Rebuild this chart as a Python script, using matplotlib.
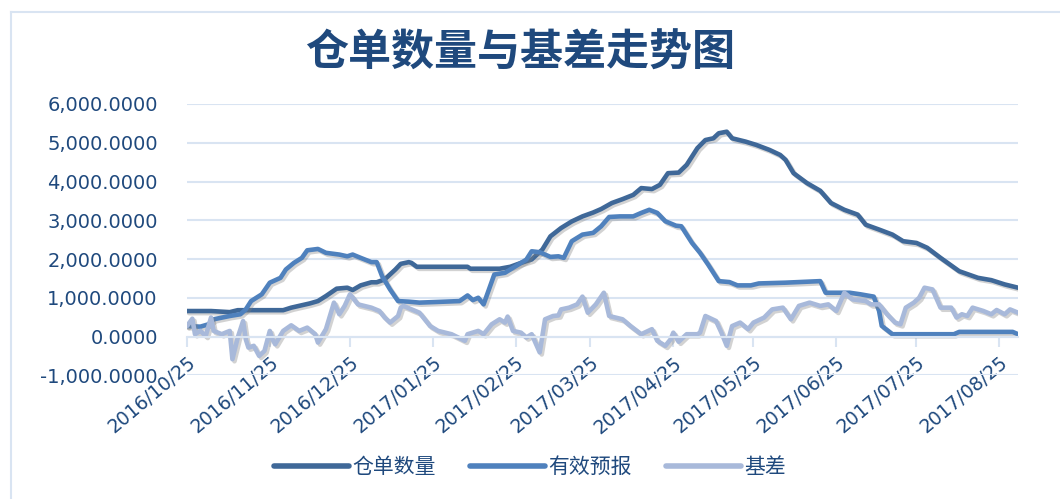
import numpy as np
import pandas as pd
import matplotlib
matplotlib.use("Agg")
import matplotlib.pyplot as plt
import matplotlib.dates as mdates
import matplotlib.patheffects as pe
from matplotlib.lines import Line2D
from matplotlib.ticker import FuncFormatter

plt.rcParams['font.family'] = ['Noto Sans CJK SC', 'DejaVu Sans']

# 仓单数量
cd_dates = ["2016-10-25", "2016-11-03", "2016-11-10", "2016-11-13", "2016-11-30", "2016-12-03",
            "2016-12-10", "2016-12-13", "2016-12-16", "2016-12-20", "2016-12-24", "2016-12-26",
            "2016-12-29", "2017-01-02", "2017-01-04", "2017-01-07", "2017-01-11", "2017-01-13",
            "2017-01-16", "2017-01-17", "2017-01-19", "2017-02-07", "2017-02-08", "2017-02-19",
            "2017-02-23", "2017-02-27", "2017-03-03", "2017-03-07", "2017-03-10", "2017-03-14",
            "2017-03-18", "2017-03-22", "2017-03-26", "2017-03-29", "2017-04-02", "2017-04-06",
            "2017-04-10", "2017-04-13", "2017-04-17", "2017-04-20", "2017-04-23", "2017-04-27",
            "2017-04-30", "2017-05-04", "2017-05-07", "2017-05-10", "2017-05-12", "2017-05-15",
            "2017-05-17", "2017-05-22", "2017-05-26", "2017-05-31", "2017-06-04", "2017-06-06",
            "2017-06-09", "2017-06-14", "2017-06-19", "2017-06-23", "2017-06-28", "2017-07-03",
            "2017-07-06", "2017-07-11", "2017-07-16", "2017-07-20", "2017-07-25", "2017-07-29",
            "2017-08-03", "2017-08-10", "2017-08-17", "2017-08-22", "2017-08-27", "2017-09-01"]
cd_vals = [658, 658, 630, 680, 680, 745,
           855, 915, 1045, 1235, 1260, 1200,
           1320, 1400, 1400, 1475, 1730, 1875,
           1920, 1900, 1800, 1800, 1750, 1750,
           1800, 1900, 1990, 2245, 2585, 2800,
           2970, 3100, 3200, 3290, 3445, 3545,
           3655, 3830, 3805, 3915, 4215, 4230,
           4430, 4860, 5070, 5115, 5245, 5285,
           5115, 5030, 4945, 4815, 4685, 4560,
           4215, 3960, 3760, 3445, 3270, 3145,
           2885, 2760, 2630, 2460, 2415, 2290,
           2030, 1685, 1515, 1455, 1345, 1260]

# 有效预报
yx_dates = ["2016-10-25", "2016-10-30", "2016-11-02", "2016-11-04", "2016-11-10", "2016-11-14",
            "2016-11-16", "2016-11-18", "2016-11-22", "2016-11-25", "2016-11-29", "2016-12-01",
            "2016-12-04", "2016-12-07", "2016-12-09", "2016-12-13", "2016-12-16", "2016-12-21",
            "2016-12-24", "2016-12-26", "2016-12-29", "2017-01-02", "2017-01-04", "2017-01-06",
            "2017-01-09", "2017-01-12", "2017-01-16", "2017-01-20", "2017-02-04", "2017-02-07",
            "2017-02-09", "2017-02-11", "2017-02-13", "2017-02-17", "2017-02-21", "2017-02-25",
            "2017-03-01", "2017-03-03", "2017-03-06", "2017-03-10", "2017-03-13", "2017-03-15",
            "2017-03-18", "2017-03-22", "2017-03-26", "2017-03-29", "2017-04-01", "2017-04-05",
            "2017-04-10", "2017-04-13", "2017-04-16", "2017-04-19", "2017-04-22", "2017-04-26",
            "2017-04-28", "2017-05-02", "2017-05-05", "2017-05-08", "2017-05-12", "2017-05-16",
            "2017-05-19", "2017-05-24", "2017-05-27", "2017-06-06", "2017-06-19", "2017-06-21",
            "2017-06-30", "2017-07-04", "2017-07-09", "2017-07-11", "2017-07-12", "2017-07-16",
            "2017-08-08", "2017-08-10", "2017-08-30", "2017-09-01"]
yx_vals = [270, 255, 315, 445, 530, 575,
           700, 915, 1090, 1390, 1515, 1730,
           1900, 2030, 2225, 2260, 2160, 2115,
           2070, 2115, 2030, 1920, 1920, 1560,
           1215, 915, 900, 875, 915, 1060,
           940, 1000, 830, 1600, 1645, 1815,
           1985, 2200, 2175, 2055, 2070, 2030,
           2460, 2630, 2675, 2845, 3085, 3100,
           3100, 3190, 3270, 3190, 2975, 2860,
           2845, 2415, 2160, 1860, 1430, 1405,
           1320, 1320, 1370, 1390, 1430, 1130,
           1130, 1090, 1030, 660, 275, 60,
           60, 120, 120, 60]

# 基差
jc_dates = ["2016-10-25", "2016-10-27", "2016-10-28", "2016-10-30", "2016-11-01", "2016-11-03",
            "2016-11-04", "2016-11-07", "2016-11-10", "2016-11-11", "2016-11-13", "2016-11-15",
            "2016-11-16", "2016-11-17", "2016-11-19", "2016-11-21", "2016-11-23", "2016-11-25",
            "2016-11-26", "2016-11-27", "2016-11-30", "2016-12-03", "2016-12-06", "2016-12-09",
            "2016-12-12", "2016-12-13", "2016-12-16", "2016-12-19", "2016-12-21", "2016-12-23",
            "2016-12-25", "2016-12-28", "2017-01-02", "2017-01-05", "2017-01-07", "2017-01-09",
            "2017-01-12", "2017-01-13", "2017-01-14", "2017-01-20", "2017-01-24", "2017-01-27",
            "2017-02-01", "2017-02-06", "2017-02-07", "2017-02-11", "2017-02-13", "2017-02-16",
            "2017-02-19", "2017-02-21", "2017-02-22", "2017-02-24", "2017-02-27", "2017-03-01",
            "2017-03-03", "2017-03-06", "2017-03-08", "2017-03-11", "2017-03-13", "2017-03-14",
            "2017-03-17", "2017-03-20", "2017-03-22", "2017-03-24", "2017-03-27", "2017-03-30",
            "2017-04-01", "2017-04-06", "2017-04-09", "2017-04-13", "2017-04-17", "2017-04-19",
            "2017-04-22", "2017-04-24", "2017-04-25", "2017-04-27", "2017-04-30", "2017-05-04",
            "2017-05-05", "2017-05-07", "2017-05-11", "2017-05-13", "2017-05-15", "2017-05-17",
            "2017-05-20", "2017-05-23", "2017-05-25", "2017-05-29", "2017-06-01", "2017-06-05",
            "2017-06-08", "2017-06-11", "2017-06-15", "2017-06-19", "2017-06-22", "2017-06-25",
            "2017-06-28", "2017-07-01", "2017-07-06", "2017-07-08", "2017-07-11", "2017-07-14",
            "2017-07-17", "2017-07-19", "2017-07-21", "2017-07-24", "2017-07-26", "2017-07-28",
            "2017-07-31", "2017-08-03", "2017-08-07", "2017-08-09", "2017-08-11", "2017-08-13",
            "2017-08-15", "2017-08-19", "2017-08-22", "2017-08-24", "2017-08-27", "2017-08-29",
            "2017-09-01"]
jc_vals = [270, 460, 60, 145, 15, 490,
           145, 60, 145, -585, -25, 400,
           -70, -285, -240, -500, -370, 145,
           -70, -200, 145, 290, 145, 230,
           60, -155, 190, 875, 575, 790,
           1090, 830, 745, 660, 490, 360,
           530, 745, 790, 615, 270, 145,
           60, -110, 60, 145, 60, 315,
           445, 360, 515, 145, 100, -25,
           60, -410, 445, 530, 545, 700,
           745, 830, 1030, 615, 830, 1130,
           530, 445, 270, 60, 190, -110,
           -240, -70, 100, -135, 60, 60,
           100, 530, 400, 100, -240, 270,
           360, 190, 360, 490, 700, 745,
           445, 790, 875, 790, 830, 660,
           1130, 960, 915, 830, 830, 575,
           360, 315, 745, 875, 1000, 1260,
           1215, 745, 745, 490, 575, 530,
           745, 660, 575, 685, 575, 700,
           615]

tick_dates = pd.date_range("2016-10-25", "2017-08-25", freq=pd.DateOffset(months=1))

c_dark = "#3F6898"
c_mid = "#4F81BD"
c_light = "#A8B9DA"
c_text = "#1F497D"
c_grid = "#D9E4F2"

fig = plt.figure(figsize=(10.6, 4.99), dpi=100)
ax = fig.add_axes([0.1764, 0.2479, 0.7840, 0.5437])

shadow = [pe.SimpleLineShadow(offset=(1.5, -1.5), shadow_color="#7f7f7f", alpha=0.35), pe.Normal()]
series = [("仓单数量", cd_dates, cd_vals, c_dark),
          ("有效预报", yx_dates, yx_vals, c_mid),
          ("基差", jc_dates, jc_vals, c_light)]
for name, d, v, c in series:
    ax.plot(pd.to_datetime(d), v, color=c, lw=3.3, label=name,
            solid_joinstyle="round", solid_capstyle="round", path_effects=shadow)

ax.set_ylim(-1000, 6000)
ax.set_xlim(pd.Timestamp("2016-10-25"), pd.Timestamp("2017-09-01"))
ax.set_yticks(np.arange(-1000, 6001, 1000))
ax.yaxis.set_major_formatter(FuncFormatter(lambda v, p: f"{v:,.4f}"))
ax.grid(axis="y", color=c_grid, lw=1.5)
ax.set_axisbelow(True)
for s in ["left", "right", "top"]:
    ax.spines[s].set_visible(False)
ax.spines["bottom"].set_position(("data", 0))
ax.spines["bottom"].set_color(c_grid)
ax.spines["bottom"].set_linewidth(1.5)
ax.set_xticks(tick_dates)
ax.xaxis.set_major_formatter(mdates.DateFormatter("%Y/%m/%d"))
ax.tick_params(axis="x", colors=c_grid, length=7, width=1.5, labelcolor=c_text, pad=5)
ax.tick_params(axis="y", length=0, labelcolor=c_text, pad=21)
for lab in ax.get_xticklabels():
    lab.set_family("DejaVu Sans")
    lab.set_fontsize(13.5)
    lab.set_rotation(40)
    lab.set_ha("right")
    lab.set_va("top")
    lab.set_rotation_mode("anchor")
for lab in ax.get_yticklabels():
    lab.set_family("DejaVu Sans")
    lab.set_fontsize(14)

fig.text(0.491, 0.895, "仓单数量与基差走势图", ha="center", va="center",
         fontsize=31, fontweight="bold", color=c_text)

handles = [Line2D([], [], color=c, lw=4, solid_capstyle="round") for _, _, _, c in series]
fig.legend(handles, [s[0] for s in series], loc="center", bbox_to_anchor=(0.5, 0.064),
           ncol=3, frameon=False, fontsize=15, handlelength=3.6, columnspacing=1.6,
           handletextpad=0.2, labelcolor=c_text)

# chart border (left / top visible)
fig.add_artist(Line2D([0.0104, 0.0104], [0, 0.976], color=c_grid, lw=1.5))
fig.add_artist(Line2D([0.0104, 1.0], [0.976, 0.976], color=c_grid, lw=1.5))

fig.savefig("out.png", dpi=100)
